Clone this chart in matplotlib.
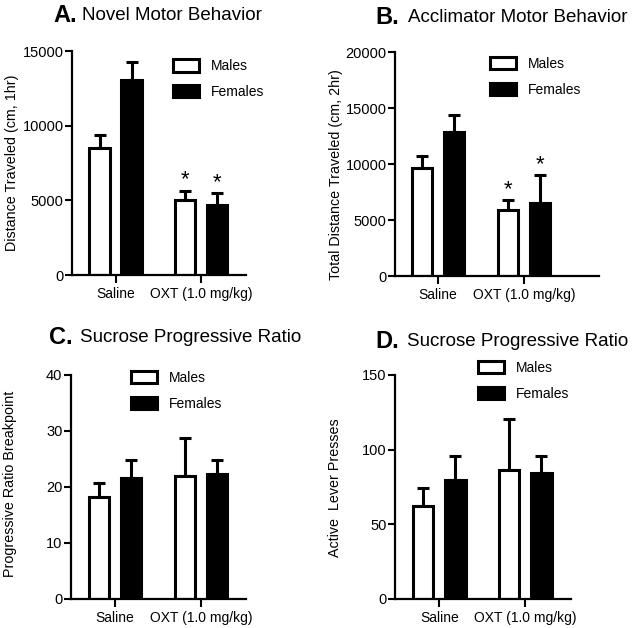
import matplotlib.pyplot as plt
from matplotlib.patches import Patch
from matplotlib.transforms import ScaledTranslation

plt.rcParams['font.family'] = ['Liberation Sans', 'DejaVu Sans']

# data
groups = ['Saline', 'OXT (1.0 mg/kg)']
series = ['Males', 'Females']

novel_male = [8500, 5000]
novel_male_err = [850, 650]
novel_female = [13050, 4700]
novel_female_err = [1200, 800]

accl_male = [9600, 5850]
accl_male_err = [1100, 900]
accl_female = [12900, 6500]
accl_female_err = [1500, 2500]

pr_male = [18.3, 21.9]
pr_male_err = [2.5, 6.9]
pr_female = [21.6, 22.4]
pr_female_err = [3.3, 2.5]

lever_male = [62, 86.5]
lever_male_err = [12, 34]
lever_female = [79.5, 84.5]
lever_female_err = [16, 11]

W, H = 632, 628
fig = plt.figure(figsize=(W / 100, H / 100), dpi=100)
fig.patch.set_facecolor('white')

BAR_W = 0.235
OFFSET = 0.187


def px_axes(left, top, right, bottom):
    return fig.add_axes([left / W, 1 - bottom / H, (right - left) / W, (bottom - top) / H])


def panel(ax, male, male_err, female, female_err, ylim, ystep, xlim, ylabel,
          label_xy, legend_xy, stars=False):
    xs = range(len(groups))
    xm = [x - OFFSET for x in xs]
    xf = [x + OFFSET for x in xs]
    ax.errorbar(xm, male, yerr=[[0] * len(male), male_err], fmt='none', ecolor='black',
                elinewidth=2.2, capsize=4.3, capthick=2.2, zorder=1)
    ax.errorbar(xf, female, yerr=[[0] * len(female), female_err], fmt='none', ecolor='black',
                elinewidth=2.2, capsize=4.3, capthick=2.2, zorder=1)
    ax.bar(xm, male, width=BAR_W, color='white', edgecolor='black', linewidth=2.2, zorder=2)
    ax.bar(xf, female, width=BAR_W, color='black', edgecolor='black', linewidth=2.2, zorder=2)
    if stars:
        for x, v, e in zip(xm[1:], male[1:], male_err[1:]):
            ax.annotate('*', xy=(x, v + e), xytext=(0, 0), textcoords='offset points',
                        ha='center', va='bottom', fontsize=16)
        for x, v, e in zip(xf[1:], female[1:], female_err[1:]):
            ax.annotate('*', xy=(x, v + e), xytext=(0, 0), textcoords='offset points',
                        ha='center', va='bottom', fontsize=16)

    ax.set_xlim(*xlim)
    ax.set_ylim(*ylim)
    ax.set_yticks(range(ylim[0], ylim[1] + 1, ystep))
    ax.set_xticks(list(xs))
    ax.set_xticklabels(groups, fontsize=10)
    # the second group label sits a little left of its tick in the original
    lab = ax.get_xticklabels()[1]
    lab.set_transform(lab.get_transform() + ScaledTranslation(-5 / 100, 0, fig.dpi_scale_trans))
    ax.tick_params(axis='y', labelsize=10.5, length=5, width=1.5, pad=1)
    ax.tick_params(axis='x', length=5.5, width=1.5, pad=3)
    for s in ['top', 'right']:
        ax.spines[s].set_visible(False)
    for s in ['left', 'bottom']:
        ax.spines[s].set_linewidth(1.6)
    ax.set_ylabel(ylabel, fontsize=10.3)
    ax.yaxis.set_label_coords(*label_xy)

    handles = [Patch(facecolor='white', edgecolor='black', linewidth=2.2),
               Patch(facecolor='black', edgecolor='black', linewidth=2.2)]
    ax.legend(handles, series, loc='upper left', bbox_to_anchor=legend_xy, frameon=False,
              fontsize=10, handlelength=1.9, handleheight=1.0, handletextpad=0.85,
              labelspacing=0.85, borderpad=0, borderaxespad=0)


axA = px_axes(72, 51, 246, 275)
panel(axA, novel_male, novel_male_err, novel_female, novel_female_err,
      (0, 15000), 5000, (-0.509, 1.526), 'Distance Traveled (cm, 1hr)',
      (-0.305, 0.5), (0.579, 0.964), stars=True)

axB = px_axes(395, 52, 599, 276)
panel(axB, accl_male, accl_male_err, accl_female, accl_female_err,
      (0, 20000), 5000, (-0.5, 1.872), 'Total Distance Traveled (cm, 2hr)',
      (-0.255, 0.455), (0.466, 0.978), stars=True)

axC = px_axes(70.7, 375, 246, 599)
panel(axC, pr_male, pr_male_err, pr_female, pr_female_err,
      (0, 40), 10, (-0.515, 1.52), 'Progressive Ratio Breakpoint',
      (-0.306, 0.513), (0.344, 1.018))

axD = px_axes(395, 375, 571, 599)
panel(axD, lever_male, lever_male_err, lever_female, lever_female_err,
      (0, 150), 50, (-0.515, 1.53), 'Active  Lever Presses',
      (-0.30, 0.495), (0.472, 1.0625))

# panel titles: bold letter + plain text
titles = [('A.', 'Novel Motor Behavior', 53, 82, 16),
          ('B.', 'Acclimator Motor Behavior', 375, 408, 17),
          ('C.', 'Sucrose Progressive Ratio', 49, 80, 337),
          ('D.', 'Sucrose Progressive Ratio', 375, 407, 341)]
for letter, text, x1, x2, y in titles:
    fig.text(x1 / W, 1 - y / H, letter, fontsize=17, fontweight='bold', va='center', ha='left')
    fig.text(x2 / W, 1 - y / H, text, fontsize=13.5, va='center', ha='left')

fig.savefig('out.png', dpi=100)
